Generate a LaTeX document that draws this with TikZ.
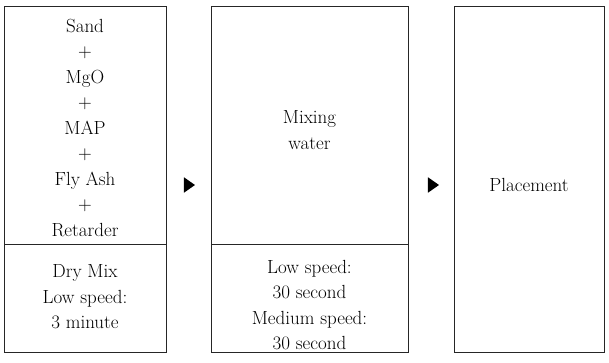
\documentclass[tikz,border=0pt]{standalone}
\usepackage{fontspec}
\usetikzlibrary{shapes.geometric}
\begin{document}
\begin{tikzpicture}[x=1pt,y=-1pt,
  boxpart/.style={draw=black!85, line width=0.9pt, rectangle, inner sep=0pt, anchor=north west},
  txt/.style={font=\fontsize{19}{25.5}\selectfont, align=center, inner sep=0pt},
  tri/.style={isosceles triangle, isosceles triangle apex angle=70, fill=black, draw=none, inner sep=0pt, minimum height=11pt, minimum width=14pt, shape border rotate=0}]
\useasboundingbox (0,0) rectangle (609,363);
% box 1
\node[boxpart, minimum width=162pt, minimum height=238pt] (b1t) at (4,6) {};
\node[boxpart, minimum width=162pt, minimum height=108pt] (b1b) at (4,244) {};
% box 2
\node[boxpart, minimum width=197pt, minimum height=238pt] (b2t) at (211,6) {};
\node[boxpart, minimum width=197pt, minimum height=108pt] (b2b) at (211,244) {};
% box 3
\node[boxpart, minimum width=150pt, minimum height=346pt] (b3) at (454,6) {};
% texts
\node[txt] (t1) at (85,128) {Sand\\+\\MgO\\+\\MAP\\+\\Fly Ash\\+\\Retarder};
\node[txt] (t2) at (85,297) {Dry Mix\\Low speed:\\3 minute};
\node[txt] (t3) at (309.5,130) {Mixing\\water};
\node[txt] (t4) at (309.5,305) {Low speed:\\30 second\\Medium speed:\\30 second};
\node[txt] (t5) at (529,185) {Placement};
% arrows
\node[tri] (a1) at (188,185) {};
\node[tri] (a2) at (432,185) {};
\end{tikzpicture}
\end{document}
